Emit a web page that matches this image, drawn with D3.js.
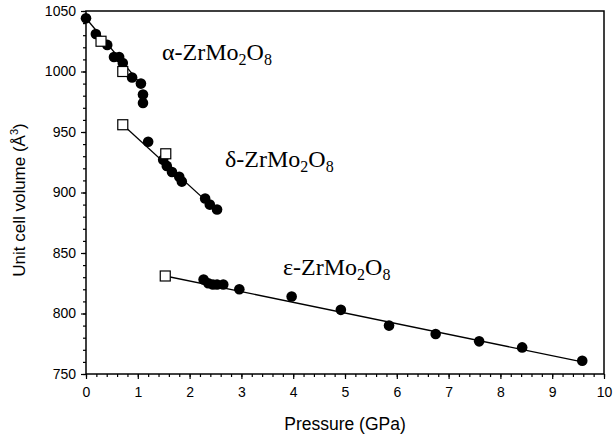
<!DOCTYPE html>
<html>
<head>
<meta charset="utf-8">
<script src="https://cdn.jsdelivr.net/npm/d3@7"></script>
<style>
  body { margin: 0; background: #fff; }
  svg { display: block; }
  .tick text { font-family: "Liberation Sans", Arial, sans-serif; font-size: 14px; fill: #000; }
  .phase { font-family: "Liberation Serif", "Times New Roman", serif; font-size: 24px; }
</style>
</head>
<body>
<svg id="chart" width="613" height="443"></svg>
<script>
// alpha phase, filled circles (pressure GPa, volume A^3)
var alphaP = [0, 0.19, 0.41, 0.54, 0.64, 0.71, 0.89, 1.06, 1.10, 1.10];
var alphaV = [1044, 1031, 1022, 1012, 1012, 1007, 995, 990, 981, 974];
// delta phase
var deltaP = [1.20, 1.49, 1.56, 1.66, 1.80, 1.85, 2.30, 2.39, 2.53];
var deltaV = [942, 927, 922, 917, 913, 909, 895, 890, 886];
// epsilon phase
var epsP = [2.27, 2.36, 2.45, 2.53, 2.65, 2.96, 3.97, 4.92, 5.85, 6.75, 7.59, 8.42, 9.58];
var epsV = [828, 825, 824, 824, 824, 820, 814, 803, 790, 783, 777, 772, 761];
// open squares
var squareP = [0.29, 0.71, 0.71, 1.54, 1.53];
var squareV = [1025, 1000, 956, 932, 831];
// fitted lines [p0, v0, p1, v1]
var alphaFit = [0, 1044, 1.07, 989];
var deltaFit = [0.71, 956, 2.55, 884];
var epsFit = [1.53, 831, 9.58, 760];

var xTicks = [0, 1, 2, 3, 4, 5, 6, 7, 8, 9, 10];
var yTicks = [750, 800, 850, 900, 950, 1000, 1050];

var svg = d3.select("#chart");
var x = d3.scaleLinear().domain([0, 10]).range([86, 604]);
var y = d3.scaleLinear().domain([750, 1050]).range([374, 11]);

// minor ticks
svg.append("g")
    .attr("transform", "translate(0,374)")
    .call(d3.axisBottom(x).tickValues(d3.range(0, 10.01, 0.2)).tickSize(3).tickFormat(""))
    .call(g => g.select(".domain").remove());
svg.append("g")
    .attr("transform", "translate(86,0)")
    .call(d3.axisLeft(y).tickValues(d3.range(750, 1051, 10)).tickSize(3).tickFormat(""))
    .call(g => g.select(".domain").remove());

// major ticks
svg.append("g")
    .attr("transform", "translate(0,374)")
    .call(d3.axisBottom(x).tickValues(xTicks).tickSize(5).tickPadding(8).tickFormat(d3.format("d")))
    .call(g => g.select(".domain").remove());
svg.append("g")
    .attr("transform", "translate(86,0)")
    .call(d3.axisLeft(y).tickValues(yTicks).tickSize(5).tickPadding(5).tickFormat(d3.format("d")))
    .call(g => g.select(".domain").remove());

svg.selectAll(".tick line").attr("stroke", "#000").attr("stroke-width", 1.2);

// frame
svg.append("rect")
    .attr("x", x(0)).attr("y", y(1050))
    .attr("width", x(10) - x(0)).attr("height", y(750) - y(1050))
    .attr("fill", "none").attr("stroke", "#000").attr("stroke-width", 1.5);

// fit lines
[alphaFit, deltaFit, epsFit].forEach(f => {
  svg.append("line")
      .attr("x1", x(f[0])).attr("y1", y(f[1]))
      .attr("x2", x(f[2])).attr("y2", y(f[3]))
      .attr("stroke", "#000").attr("stroke-width", 1.3);
});

// filled circles
var circles = [];
[[alphaP, alphaV], [deltaP, deltaV], [epsP, epsV]].forEach(s => {
  s[0].forEach((p, i) => circles.push({p: p, v: s[1][i]}));
});
svg.append("g").selectAll("circle")
    .data(circles)
    .join("circle")
    .attr("cx", d => x(d.p))
    .attr("cy", d => y(d.v))
    .attr("r", 5.3)
    .attr("fill", "#000");

// open squares
svg.append("g").selectAll("rect")
    .data(squareP.map((p, i) => ({p: p, v: squareV[i]})))
    .join("rect")
    .attr("x", d => x(d.p) - 5)
    .attr("y", d => y(d.v) - 5)
    .attr("width", 10).attr("height", 10)
    .attr("fill", "#fff").attr("stroke", "#000").attr("stroke-width", 1.2);

// phase labels
function phaseLabel(px, py, greek) {
  var t = svg.append("text").attr("class", "phase").attr("x", px).attr("y", py);
  t.append("tspan").text(greek + "-ZrMo");
  t.append("tspan").attr("font-size", 16).attr("dy", 5).text("2");
  t.append("tspan").attr("dy", -5).text("O");
  t.append("tspan").attr("font-size", 16).attr("dy", 5).text("8");
}
phaseLabel(162, 60, "α");
phaseLabel(225, 167, "δ");
phaseLabel(283, 275, "ε");

// axis titles
svg.append("text")
    .attr("x", 345).attr("y", 430)
    .attr("text-anchor", "middle")
    .attr("font-family", "Liberation Sans, Arial, sans-serif")
    .attr("font-size", 17.5)
    .text("Pressure (GPa)");

var yl = svg.append("text")
    .attr("transform", "translate(25,200) rotate(-90)")
    .attr("text-anchor", "middle")
    .attr("font-family", "Liberation Sans, Arial, sans-serif")
    .attr("font-size", 17);
yl.append("tspan").text("Unit cell volume (Å");
yl.append("tspan").attr("font-size", 11).attr("dy", -7).text("3");
yl.append("tspan").attr("dy", 7).text(")");
</script>
</body>
</html>
